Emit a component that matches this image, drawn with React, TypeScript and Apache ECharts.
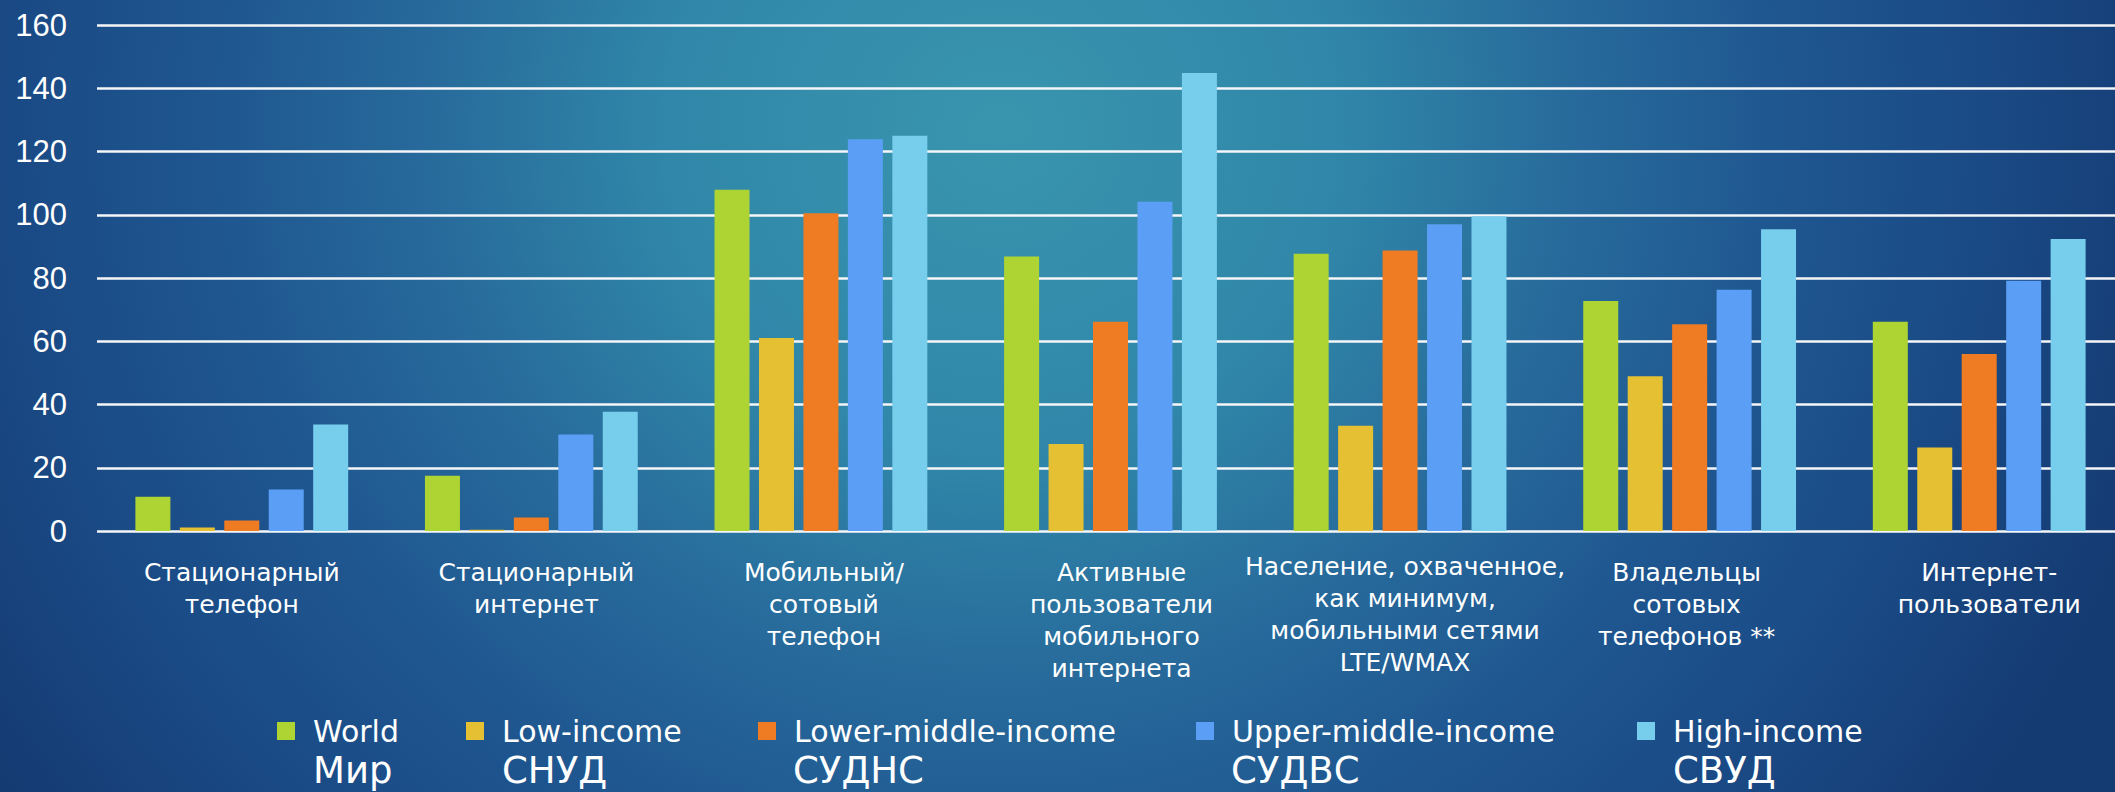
import React, { useEffect, useRef } from "react";
import * as echarts from "echarts";

const categories = [
  "Стационарный\nтелефон",
  "Стационарный\nинтернет",
  "Мобильный/\nсотовый\nтелефон",
  "Активные\nпользователи\nмобильного\nинтернета",
  "Население, охваченное,\nкак минимум,\nмобильными сетями\nLTE/WMAX",
  "Владельцы\nсотовых\nтелефонов **",
  "Интернет-\nпользователи",
];

const seriesNames = [
  "World",
  "Low-income",
  "Lower-middle-income",
  "Upper-middle-income",
  "High-income",
];
const seriesNamesRu = ["Мир", "СНУД", "СУДНС", "СУДВС", "СВУД"];

const world = [10.8, 17.5, 107.9, 86.8, 87.7, 72.7, 66.2];
const lowIncome = [1.1, 0.4, 61.0, 27.5, 33.3, 48.9, 26.4];
const lowerMiddle = [3.3, 4.3, 100.5, 66.2, 88.7, 65.4, 56.0];
const upperMiddle = [13.1, 30.5, 123.9, 104.1, 97.0, 76.3, 79.1];
const highIncome = [33.7, 37.7, 125.0, 144.8, 99.5, 95.4, 92.3];

const yTicks = { min: 0, max: 160, interval: 20 };

const colors = ["#add433", "#e5c033", "#ef7b23", "#5a9ff5", "#76cdec"];

// layout (not data)
const legendLeft = [277, 466, 758, 1196, 1637];
const ruTextX = [313, 502, 793, 1231, 1673];
const labelPadding = [
  [9, 0, 0, 0],
  [9, 0, 0, 10],
  [9, 0, 0, 6],
  [9, 0, 0, 22],
  [3, 0, 0, 10],
  [9, 6, 0, 0],
  [9, 0, 0, 20],
];

export default function App() {
  const ref = useRef<HTMLDivElement>(null);

  useEffect(() => {
    if (!ref.current) return;
    const chart = echarts.init(ref.current, undefined, { renderer: "svg" });
    const values = [world, lowIncome, lowerMiddle, upperMiddle, highIncome];
    const font = "DejaVu Sans";

    chart.setOption({
      animation: false,
      backgroundColor: "transparent",
      grid: { left: 97, right: 6, top: 25, bottom: 261, containLabel: false },
      xAxis: {
        type: "category",
        data: categories.map((c, i) => ({
          value: c,
          textStyle: { padding: labelPadding[i] },
        })),
        axisTick: { show: false },
        axisLine: { show: false },
        axisLabel: {
          interval: 0,
          color: "#ffffff",
          fontFamily: font,
          fontSize: 25,
          lineHeight: 32,
          margin: 16,
          align: "center",
          verticalAlign: "top",
        },
      },
      yAxis: {
        type: "value",
        min: yTicks.min,
        max: yTicks.max,
        interval: yTicks.interval,
        axisLine: { show: false },
        axisTick: { show: false },
        axisLabel: {
          color: "#ffffff",
          fontFamily: "Liberation Sans",
          fontSize: 31,
          margin: 30,
        },
        splitLine: { lineStyle: { color: "#f4f6f8", width: 2.5 } },
      },
      legend: seriesNames.map((n, i) => ({
        data: [n],
        left: legendLeft[i],
        top: 716,
        itemWidth: 18,
        itemHeight: 18,
        icon: "rect",
        selectedMode: false,
        padding: 0,
        textStyle: {
          color: "#ffffff",
          fontFamily: font,
          fontSize: 30,
          padding: [0, 0, 0, 13],
        },
      })),
      graphic: seriesNamesRu.map((t, i) => ({
        type: "text",
        x: ruTextX[i],
        y: 770,
        style: {
          text: t,
          fill: "#ffffff",
          font: `37px "${font}"`,
          align: "left",
          verticalAlign: "middle",
        },
      })),
      series: seriesNames.map((n, i) => ({
        name: n,
        type: "bar",
        data: values[i],
        barWidth: 35,
        barGap: "27%",
        itemStyle: { color: colors[i] },
      })),
    });

    return () => chart.dispose();
  }, []);

  return (
    <div
      style={{
        position: "absolute",
        left: 0,
        top: 0,
        width: 2115,
        height: 792,
        overflow: "hidden",
        background:
          "radial-gradient(ellipse 1200px 1150px at 1000px 130px, #3995ae 0%, #3087a9 28%, #276a9b 48%, #1f5790 65%, #1a4a85 82%, #153b73 100%)",
      }}
    >
      <div ref={ref} style={{ width: 2130, height: 792 }} />
    </div>
  );
}
